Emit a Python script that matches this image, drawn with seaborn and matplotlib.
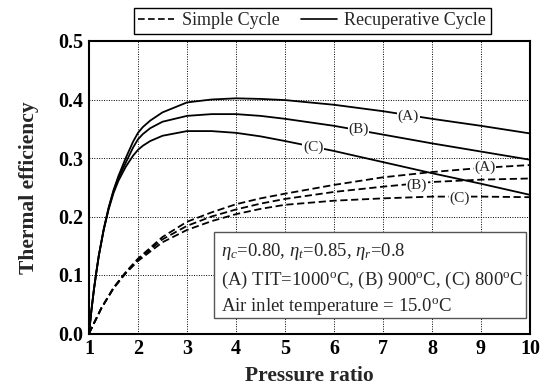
import numpy as np
import pandas as pd
import matplotlib
matplotlib.use("Agg")
import matplotlib.pyplot as plt
import seaborn as sns
from matplotlib.lines import Line2D
from matplotlib.patches import Rectangle

# ---------------- data ----------------
recup_x = [1, 1.05, 1.1, 1.15, 1.2, 1.3, 1.4, 1.5, 1.6, 1.75, 1.9, 2.0, 2.1, 2.25, 2.5, 3.0, 3.5,
           4.0, 4.5, 5.0, 6.0, 7.0, 8.0, 9.0, 10.0]
recup_A = [0, 0.040, 0.075, 0.105, 0.133, 0.178, 0.215, 0.245, 0.269, 0.300, 0.328, 0.343, 0.353,
           0.364, 0.378, 0.395, 0.400, 0.402, 0.401, 0.399, 0.391, 0.380, 0.367, 0.355, 0.342]
recup_B = [0, 0.040, 0.075, 0.105, 0.133, 0.178, 0.214, 0.243, 0.266, 0.292, 0.318, 0.332, 0.341,
           0.351, 0.362, 0.372, 0.375, 0.375, 0.372, 0.367, 0.355, 0.340, 0.325, 0.311, 0.297]
recup_C = [0, 0.040, 0.075, 0.105, 0.133, 0.177, 0.212, 0.240, 0.261, 0.285, 0.304, 0.314, 0.321,
           0.329, 0.338, 0.346, 0.346, 0.343, 0.337, 0.329, 0.312, 0.293, 0.274, 0.256, 0.237]

simple_x = [1, 1.25, 1.5, 1.75, 2.0, 2.5, 3.0, 3.5, 4.0, 4.5, 5.0, 6.0, 7.0, 8.0, 9.0, 10.0]
simple_A = [0, 0.043, 0.078, 0.105, 0.128, 0.165, 0.191, 0.207, 0.221, 0.231, 0.239, 0.254,
            0.267, 0.276, 0.283, 0.288]
simple_B = [0, 0.043, 0.078, 0.104, 0.126, 0.161, 0.184, 0.200, 0.212, 0.222, 0.230, 0.242,
            0.251, 0.259, 0.263, 0.265]
simple_C = [0, 0.043, 0.077, 0.103, 0.124, 0.156, 0.177, 0.192, 0.204, 0.213, 0.220, 0.227,
            0.231, 0.234, 0.234, 0.233]

case_labels = ["(A)", "(B)", "(C)"]
recup_label_pos = [(7.52, 0.371), (6.50, 0.349), (5.58, 0.318)]
simple_label_pos = [(9.08, 0.284), (7.69, 0.254), (8.57, 0.232)]

x_ticks = [1, 2, 3, 4, 5, 6, 7, 8, 9, 10]
y_ticks = [0.0, 0.1, 0.2, 0.3, 0.4, 0.5]
legend_labels = ["Simple Cycle", "Recuperative Cycle"]
info_lines = [r"$\eta_c$=0.80, $\eta_t$=0.85, $\eta_r$=0.8",
              r"(A) TIT=1000$^{\rm o}$C, (B) 900$^{\rm o}$C, (C) 800$^{\rm o}$C",
              r"Air inlet temperature = 15.0$^{\rm o}$C"]

# ---------------- style ----------------
sns.set_style("white")
plt.rcParams["font.family"] = ["Liberation Serif", "DejaVu Serif"]
plt.rcParams["mathtext.fontset"] = "custom"
plt.rcParams["mathtext.rm"] = "Liberation Serif"
plt.rcParams["mathtext.it"] = "Liberation Serif:italic"
plt.rcParams["mathtext.bf"] = "Liberation Serif:bold"

fig = plt.figure(figsize=(5.45, 3.87), dpi=100)
ax = fig.add_axes([89 / 545, (387 - 333.5) / 387, 441 / 545, 292.5 / 387])

frames = []
for name, ys in zip(case_labels, [recup_A, recup_B, recup_C]):
    frames.append(pd.DataFrame({"pr": recup_x, "eff": ys, "case": name, "cycle": "Recuperative"}))
for name, ys in zip(case_labels, [simple_A, simple_B, simple_C]):
    frames.append(pd.DataFrame({"pr": simple_x, "eff": ys, "case": name, "cycle": "Simple"}))
df = pd.concat(frames, ignore_index=True)

for (cyc, case), sub in df.groupby(["cycle", "case"]):
    ls = "-" if cyc == "Recuperative" else (0, (4, 2))
    sns.lineplot(data=sub, x="pr", y="eff", color="black", lw=1.3, linestyle=ls,
                 ax=ax, legend=False, zorder=3, estimator=None, sort=True)

for lab, (lx, ly) in zip(case_labels, recup_label_pos):
    ax.text(lx, ly, lab, fontsize=11, ha="center", va="center", zorder=5,
            bbox=dict(facecolor="white", edgecolor="none", pad=0.5))
for lab, (lx, ly) in zip(case_labels, simple_label_pos):
    ax.text(lx, ly, lab, fontsize=11, ha="center", va="center", zorder=5,
            bbox=dict(facecolor="white", edgecolor="none", pad=0.5))

ax.set_xlim(1, 10)
ax.set_ylim(0, 0.5)
ax.set_xticks(x_ticks)
ax.set_yticks(y_ticks)
ax.set_xticklabels([str(t) for t in x_ticks], fontsize=14.5, fontweight="bold")
ax.set_yticklabels([f"{t:.1f}" for t in y_ticks], fontsize=14.5, fontweight="bold")
ax.tick_params(direction="in", length=5, width=1, pad=4, colors="black")
ax.grid(True, color="black", linestyle=(0, (1, 1.5)), linewidth=0.7)
ax.set_axisbelow(True)
for s in ax.spines.values():
    s.set_color("black")
    s.set_linewidth(1.5)
ax.set_xlabel("Pressure ratio", fontsize=15.5, fontweight="bold", labelpad=5)
ax.set_ylabel("Thermal efficiency", fontsize=15.5, fontweight="bold", labelpad=14)

# info box
ax.add_patch(Rectangle((3.55, 0.0265), 6.37, 0.147, transform=ax.transData, facecolor="white",
                       edgecolor="#555555", lw=1.0, zorder=6, clip_on=False))
ty = [0.1395, 0.090, 0.047]
for line, yy in zip(info_lines, ty):
    ax.text(3.69, yy, line, fontsize=13.5, ha="left", va="center", zorder=7)

handles = [Line2D([], [], color="black", lw=1.2, linestyle=(0, (4, 2))),
           Line2D([], [], color="black", lw=1.2, linestyle="-")]
leg = ax.legend(handles, legend_labels, loc="lower center", bbox_to_anchor=(0.506, 1.025),
                ncol=2, fontsize=13, frameon=True, fancybox=False, framealpha=1,
                edgecolor="black", borderaxespad=0, handlelength=2.0, handletextpad=0.4,
                columnspacing=1.2, borderpad=0.25)
leg.get_frame().set_linewidth(1.0)

fig.savefig("out.png", dpi=100)
